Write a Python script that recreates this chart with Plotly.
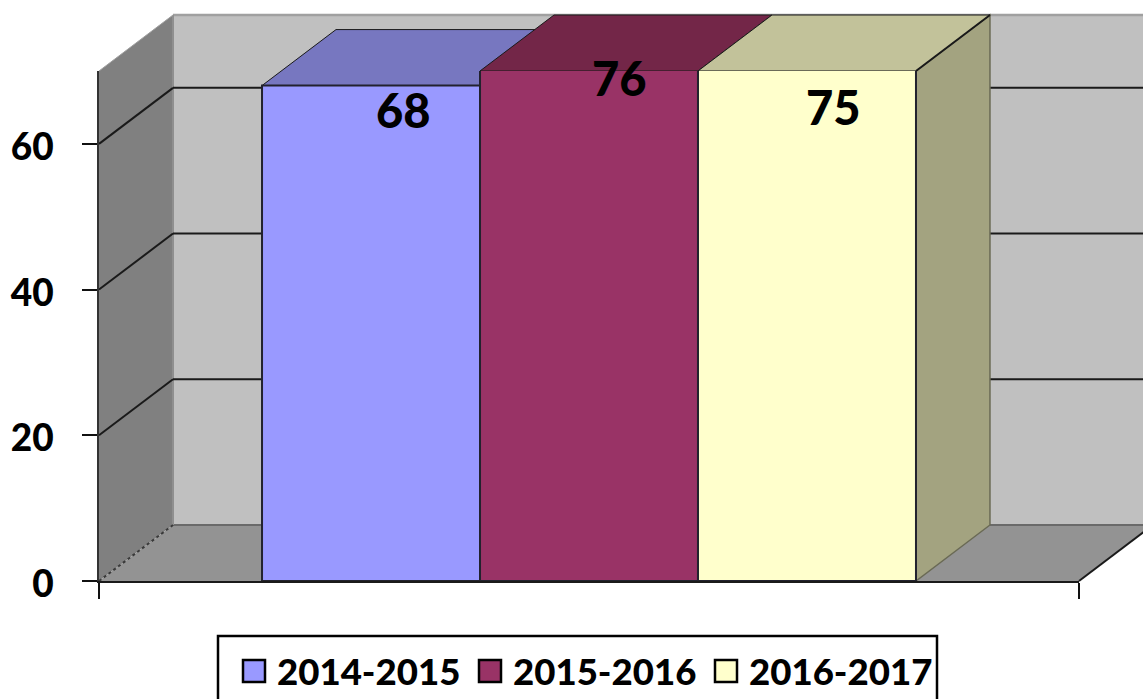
import plotly.graph_objects as go

# ---- data ----
series_names = ["2014-2015", "2015-2016", "2016-2017"]
series_values = [68, 76, 75]
y_ticks = [0, 20, 40, 60]
y_max = 70

# ---- styles ----
front_colors = ["#9999FF", "#993366", "#FFFFCC"]
top_colors = ["#7777C0", "#732648", "#C2C29A"]
side_color = "#A3A380"
WALL, SIDE_WALL, FLOOR = "#C0C0C0", "#808080", "#939393"
EDGE = "#1A1A1A"
FONT = "Lato, Carlito, 'Open Sans', sans-serif"
W, H = 1143, 699

# plot-area geometry, in pixels
AX_L, AX_R, AX_T, AX_B = 99, 1079, 71, 581
DX, DY = 74, -56
BARGAP = 0.3327


def px(x):
    return x / W


def py(y):
    return 1 - y / H


def val_y(v):
    return AX_B - (min(v, y_max) / y_max) * (AX_B - AX_T)


def poly(pts, fill, line=None, width=1, dash=None, layer="below"):
    path = "M" + " L".join(f"{px(x):.5f},{py(y):.5f}" for x, y in pts) + " Z"
    return dict(type="path", xref="paper", yref="paper", path=path, fillcolor=fill,
                line=dict(color=line or "rgba(0,0,0,0)", width=width, dash=dash or "solid"),
                layer=layer)


def seg(p, q, color=EDGE, width=2, dash="solid", layer="below"):
    return dict(type="line", xref="paper", yref="paper", x0=px(p[0]), y0=py(p[1]),
                x1=px(q[0]), y1=py(q[1]), line=dict(color=color, width=width, dash=dash),
                layer=layer)


shapes = []
# walls and floor
shapes.append(poly([(AX_L + DX, AX_T + DY), (AX_R + DX, AX_T + DY),
                    (AX_R + DX, AX_B + DY), (AX_L + DX, AX_B + DY)], WALL))
shapes.append(poly([(AX_L, AX_T), (AX_L + DX, AX_T + DY),
                    (AX_L + DX, AX_B + DY), (AX_L, AX_B)], SIDE_WALL))
shapes.append(poly([(AX_L, AX_B), (AX_L + DX, AX_B + DY),
                    (AX_R + DX, AX_B + DY), (AX_R, AX_B)], FLOOR))
shapes.append(seg((AX_L + DX, AX_T + DY), (AX_R + DX, AX_T + DY), "#A0A0A0", 2.5))
shapes.append(seg((AX_L + DX, AX_B + DY), (AX_R + DX, AX_B + DY), "#6A6A6A", 2))
shapes.append(seg((AX_L + DX, AX_T + DY), (AX_L + DX, AX_B + DY), "#8F8F8F", 2))
shapes.append(seg((AX_L, AX_T), (AX_L + DX, AX_T + DY), "#A0A0A0", 1))
shapes.append(seg((AX_L, AX_B), (AX_L + DX, AX_B + DY), "#3A3A3A", 2, "dot"))
shapes.append(seg((AX_R, AX_B), (AX_R + DX, AX_B + DY), EDGE, 2))
# gridlines on side wall and back wall
for t in y_ticks[1:]:
    y = val_y(t)
    shapes.append(seg((AX_L, y), (AX_L + DX, y + DY), EDGE, 2))
    shapes.append(seg((AX_L + DX, y + DY), (AX_R + DX, y + DY), EDGE, 2))

# depth faces of the bars, derived from the same scale as the bars
n = len(series_values)
bar_w = (AX_R - AX_L) * (1 - BARGAP) / n
left0 = (AX_L + AX_R) / 2 - bar_w * n / 2
last_right = left0 + bar_w * n
last_top = val_y(series_values[-1])
shapes.append(poly([(last_right, last_top), (last_right + DX, last_top + DY),
                    (last_right + DX, AX_B + DY), (last_right, AX_B)], side_color, "#6A6A55", 1.5))
for i, v in enumerate(series_values):
    l = left0 + i * bar_w
    y = val_y(v)
    shapes.append(poly([(l, y), (l + bar_w, y), (l + bar_w + DX, y + DY), (l + DX, y + DY)],
                       top_colors[i], EDGE, 1))
shapes.append(seg((last_right, last_top), (last_right + DX, last_top + DY), EDGE, 2))

fig = go.Figure()
for name, v, c in zip(series_names, series_values, front_colors):
    fig.add_trace(go.Bar(x=[0], y=[v], name=name, marker=dict(color=c, line=dict(color="#22222E", width=2)),
                         showlegend=False, hovertemplate=name + ": %{y}<extra></extra>"))

# value labels (positions are a per-bar pixel placement of the source picture)
label_px = [(403, 110), (619, 78), (833, 107)]
annotations = [dict(xref="paper", yref="paper", x=px(x), y=py(y), text=str(v), showarrow=False,
                    xanchor="center", yanchor="middle",
                    font=dict(family=FONT, size=47, weight=900, color="#000000"))
               for v, (x, y) in zip(series_values, label_px)]

# legend box: swatches and text
shapes.append(dict(type="rect", xref="paper", yref="paper", x0=px(218), x1=px(937), y0=py(636), y1=py(712),
                   fillcolor="#FFFFFF", line=dict(color="#000000", width=2.5), layer="above"))
for i, (name, c) in enumerate(zip(series_names, front_colors)):
    sx = 243 + i * 236
    shapes.append(dict(type="rect", xref="paper", yref="paper", x0=px(sx), x1=px(sx + 22), y0=py(660), y1=py(682),
                       fillcolor=c, line=dict(color="#000000", width=2.5), layer="above"))
    annotations.append(dict(xref="paper", yref="paper", x=px(sx + 32), y=py(671), text=name,
                            showarrow=False, xanchor="left", yanchor="middle",
                            font=dict(family=FONT, size=36.6, weight=900, color="#000000")))

fig.update_layout(
    width=W, height=H, autosize=False, margin=dict(l=0, r=0, t=0, b=0),
    paper_bgcolor="#FFFFFF", plot_bgcolor="rgba(0,0,0,0)",
    barmode="group", bargap=BARGAP, bargroupgap=0, showlegend=False,
    shapes=shapes, annotations=annotations,
    font=dict(family=FONT, color="#000000"),
    xaxis=dict(domain=[px(AX_L), px(AX_R)], range=[-0.5, 0.5], tickmode="array", tickvals=[-0.5, 0.5],
               ticktext=["", ""], ticks="outside", ticklen=16, tickwidth=2, tickcolor="#111111",
               showgrid=False, zeroline=False, showline=True, linecolor=EDGE, linewidth=2, automargin=False),
    yaxis=dict(domain=[py(AX_B), py(AX_T)], range=[0, y_max], tickmode="array", tickvals=y_ticks,
               ticks="outside", ticklen=15, tickwidth=2, tickcolor="#111111",
               tickfont=dict(family=FONT, size=37, weight=900, color="#000000"), ticklabelstandoff=21,
               ticklabelshift=3,
               showgrid=False, zeroline=False, showline=True, linecolor="#333333", linewidth=2, automargin=False),
)

fig.write_html("out.html", post_script="document.body.style.margin='0';", config={"displayModeBar": False})
